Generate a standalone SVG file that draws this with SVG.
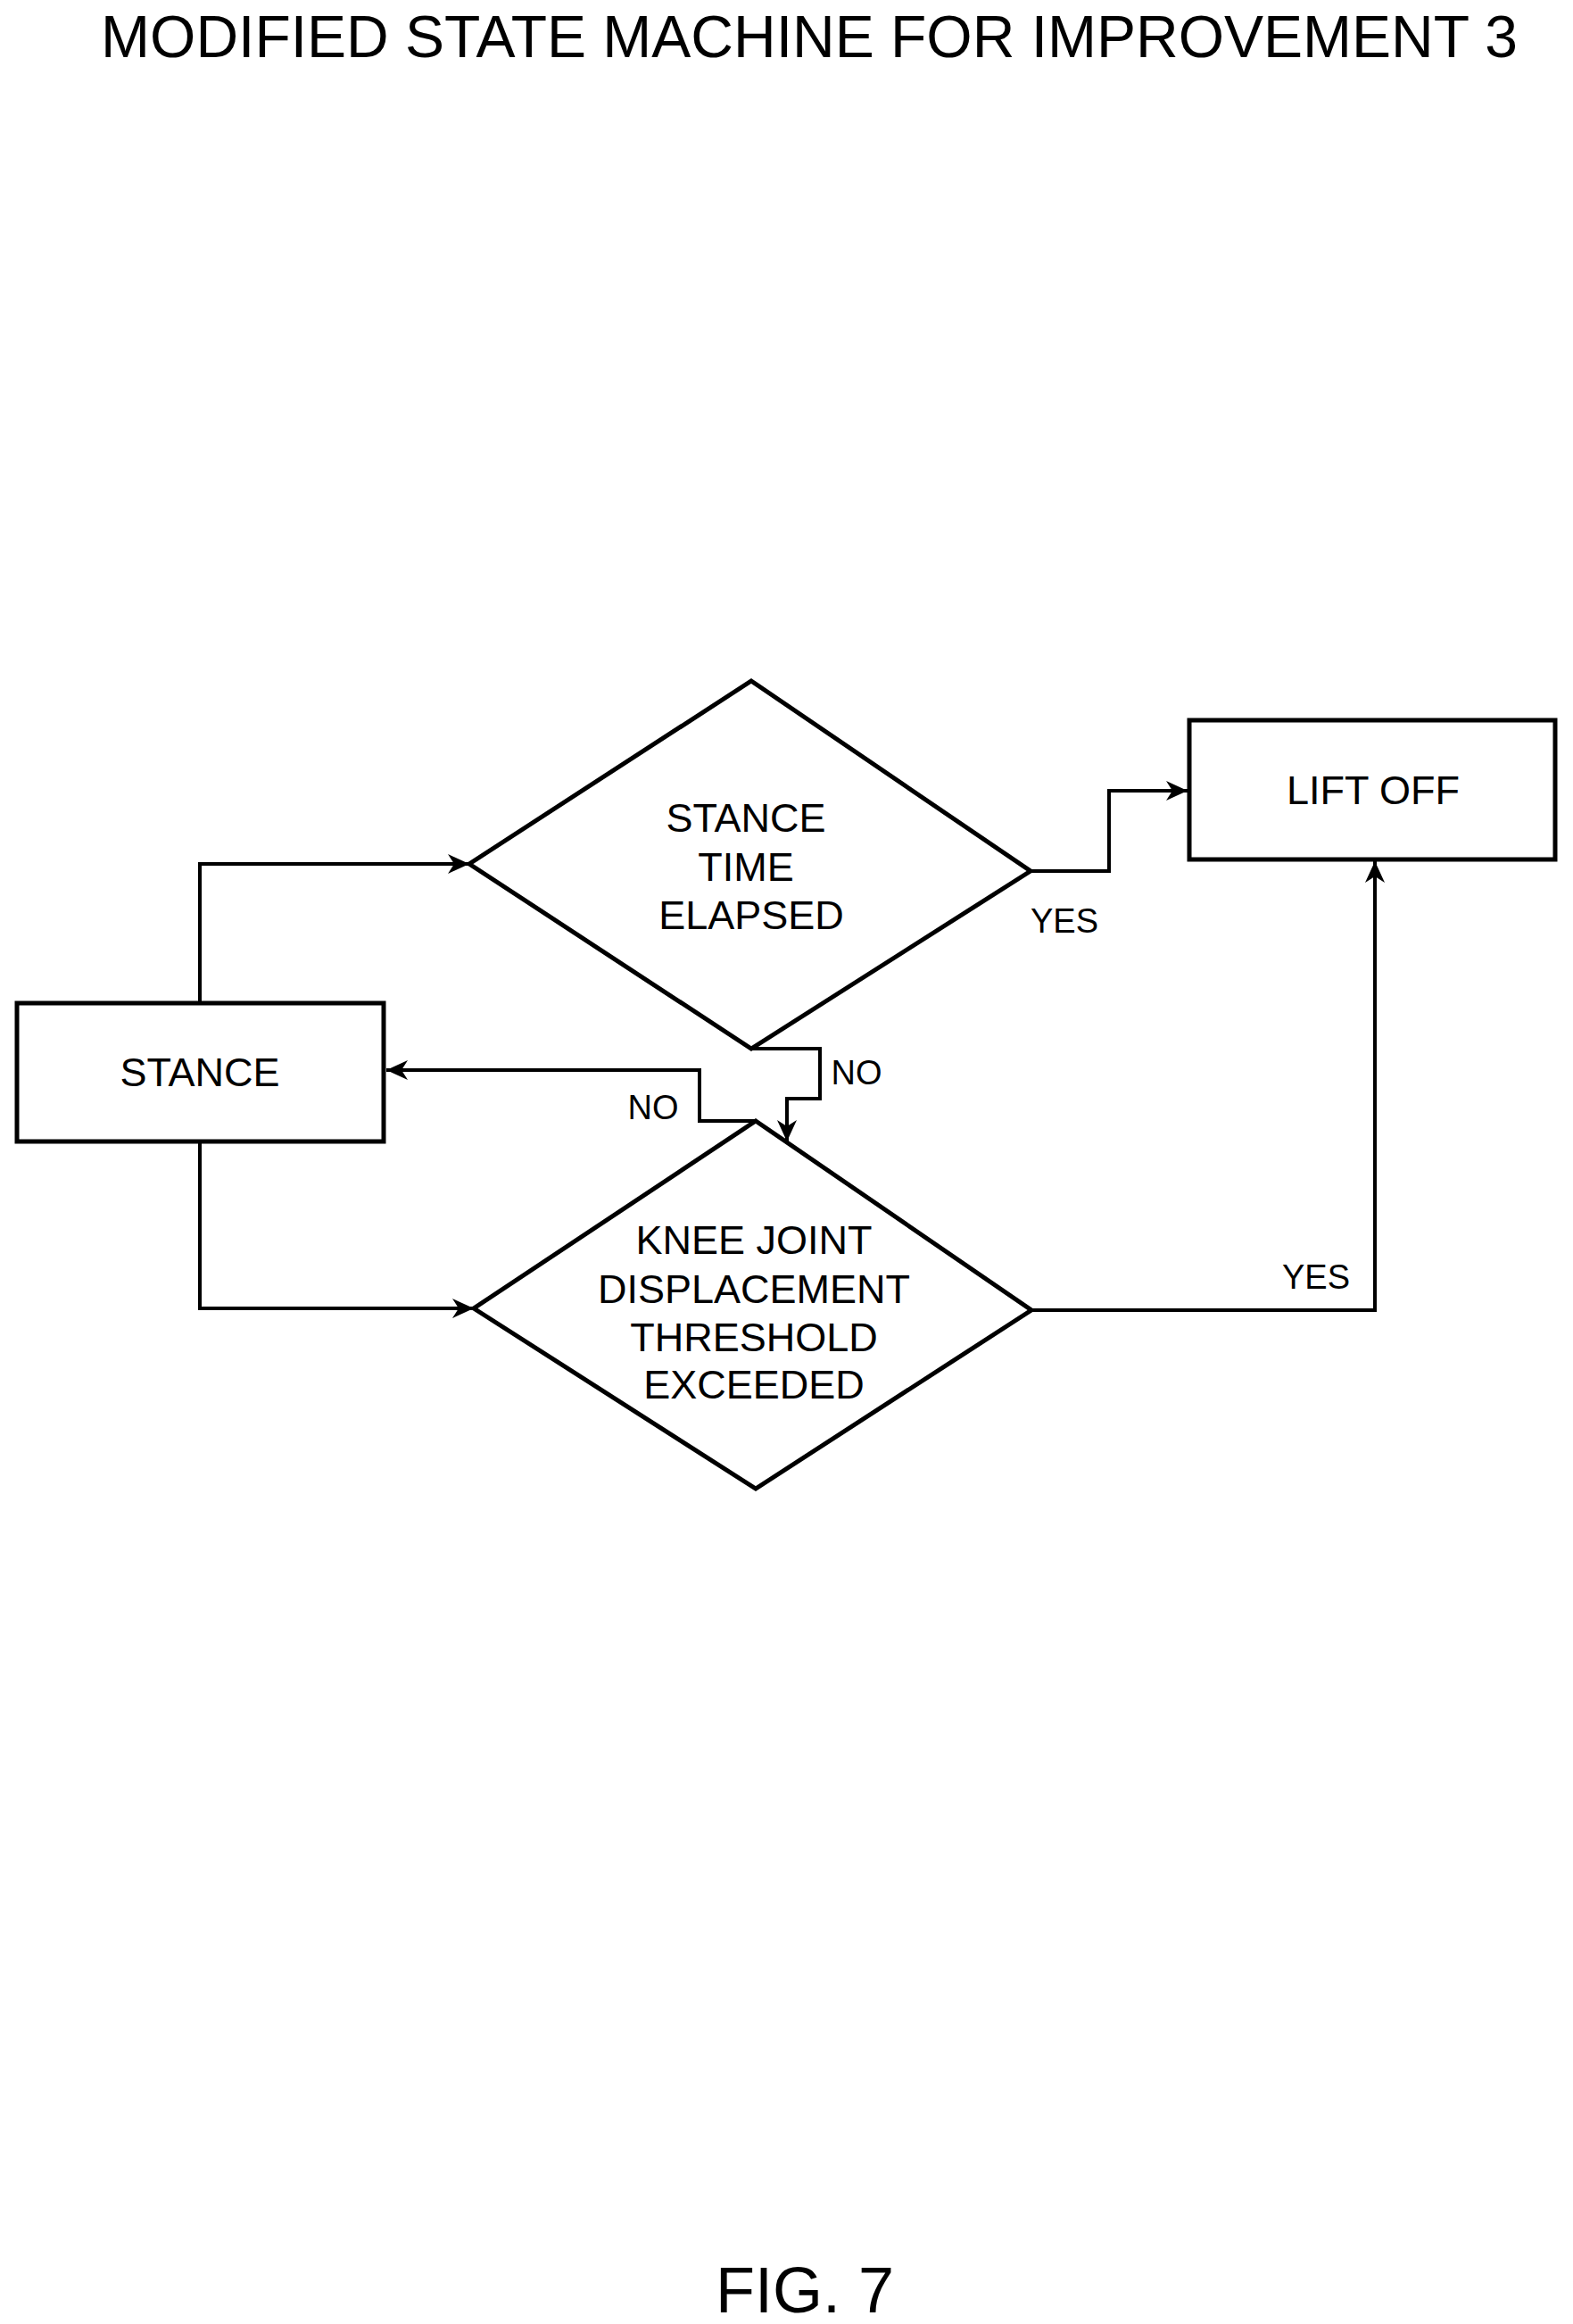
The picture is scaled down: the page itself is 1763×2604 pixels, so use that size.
<svg xmlns="http://www.w3.org/2000/svg" width="1763" height="2604" viewBox="0 0 1763 2604">
<style>
text{font-family:"Liberation Sans",Arial,sans-serif;fill:#000;text-anchor:middle}
.n{font-size:45px}
.l{font-size:38px}
.s{fill:#fff;stroke:#000;stroke-width:5}
.c{fill:none;stroke:#000;stroke-width:4}
</style>
<defs>
<marker id="b" markerWidth="26" markerHeight="22" refX="24" refY="11" orient="auto" markerUnits="userSpaceOnUse"><path d="M0,0L24,11L0,22L7,11z"/></marker></defs>
<rect width="1763" height="2604" fill="#fff"/>
<text x="907" y="64" style="font-size:66px">MODIFIED STATE MACHINE FOR IMPROVEMENT 3</text>
<g transform="translate(-5,-6)">
<g id="connectors">
<path class="c" d="M229,1128V974H531" marker-end="url(#b)"/>
<path class="c" d="M229,1285V1472H536" marker-end="url(#b)"/>
<path class="c" d="M1160,982H1248V892H1336" marker-end="url(#b)"/>
<path class="c" d="M1161,1474H1546V971" marker-end="url(#b)"/>
<path class="c" d="M847,1181H924V1237H887V1285" marker-end="url(#b)"/>
<path class="c" d="M852,1262H789V1205H438" marker-end="url(#b)"/>
</g>
<g id="stance"><rect class="s" x="24" y="1130" width="411" height="155"/><text class="n" x="229" y="1223">STANCE</text></g>
<g id="liftoff"><rect class="s" x="1338" y="813" width="410" height="156"/><text class="n" x="1544" y="907">LIFT OFF</text></g>
<g id="d1"><path class="s" d="M847,769L1160,982L847,1181L531,974Z"/>
<text class="n" x="841" y="938">STANCE</text><text class="n" x="841" y="993">TIME</text><text class="n" x="847" y="1047">ELAPSED</text></g>
<g id="d2"><path class="s" d="M852,1262L1161,1474L852,1674L536,1472Z"/>
<text class="n" x="850" y="1411">KNEE JOINT</text><text class="n" x="850" y="1466">DISPLACEMENT</text><text class="n" x="850" y="1520">THRESHOLD</text><text class="n" x="850" y="1573">EXCEEDED</text></g>
<g id="labels">
<text class="l" x="1198" y="1051">YES</text>
<text class="l" x="965" y="1221">NO</text>
<text class="l" x="737" y="1260">NO</text>
<text class="l" x="1480" y="1450">YES</text>
</g>
</g>
<text x="902" y="2591" style="font-size:72px">FIG. 7</text>
</svg>
